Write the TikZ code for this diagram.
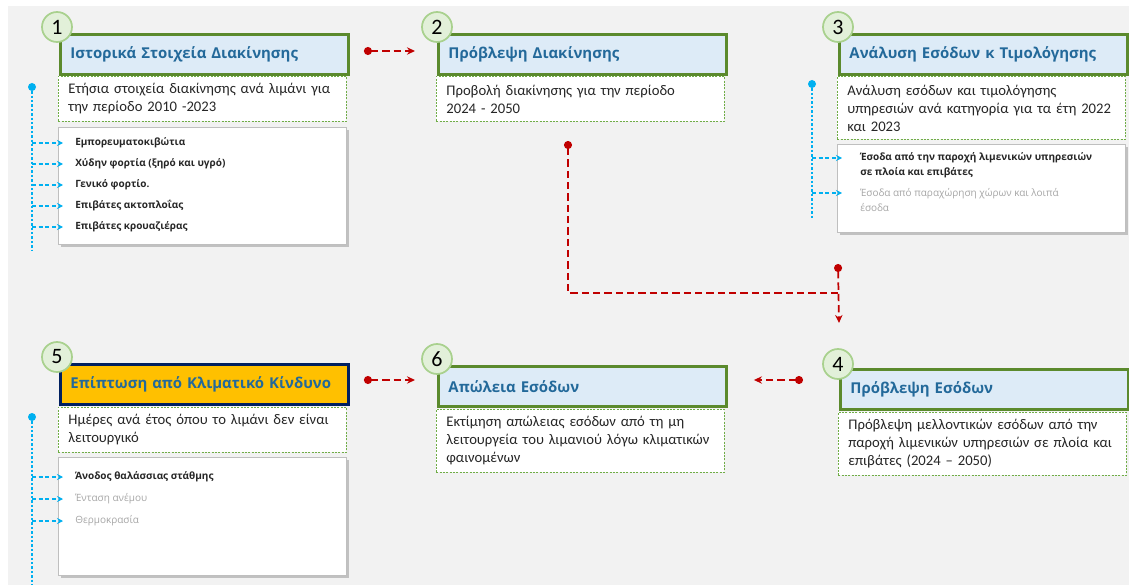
\documentclass[tikz,border=0pt]{standalone}
\usepackage{fontspec}
\setmainfont{Carlito}
\newfontfamily\osans{Open Sans}
\usetikzlibrary{arrows.meta,shadows}
\definecolor{bg}{HTML}{F2F2F2}
\definecolor{tgreen}{HTML}{5B8A2D}
\definecolor{tfill}{HTML}{DDEBF7}
\definecolor{ttext}{HTML}{23699A}
\definecolor{dgreen}{HTML}{70AD47}
\definecolor{cfill}{HTML}{E2F0D9}
\definecolor{cdraw}{HTML}{A9D18E}
\definecolor{ybox}{HTML}{FFC000}
\definecolor{navy}{HTML}{002060}
\definecolor{cred}{HTML}{C00000}
\definecolor{cblue}{HTML}{00B0F0}
\definecolor{itemgray}{HTML}{A6A6A6}
\definecolor{itemdark}{HTML}{262626}
\tikzset{
  titlebox/.style={draw=tgreen, line width=2.2pt, fill=tfill, anchor=north west,
    minimum height=30pt, text width=201pt, inner xsep=7.5pt, inner ysep=0pt, align=left,
    font=\osans\bfseries\fontsize{11.2}{13}\selectfont, text=ttext},
  descbox/.style={draw=dgreen, dash pattern=on 1.5pt off 1pt, line width=0.6pt, fill=white,
    anchor=north west, text width=201pt, inner xsep=7.5pt, inner ysep=2pt, align=left,
    font=\fontsize{11}{13.5}\selectfont, text=itemdark},
  listbox/.style={draw=black!25, line width=0.5pt, fill=white, anchor=north west,
    minimum width=216pt, inner sep=0pt,
    drop shadow={shadow xshift=2pt, shadow yshift=-2pt, opacity=0.35, fill=black!60}},
  numcirc/.style={circle, draw=cdraw, line width=1.3pt, fill=cfill, minimum size=22.5pt,
    inner sep=0pt, font=\fontsize{16.5}{16.5}\selectfont},
  itemdk/.style={anchor=west, inner sep=0pt, font=\osans\bfseries\fontsize{7.5}{11.25}\selectfont, text=itemdark, align=left},
  itemlt/.style={anchor=west, inner sep=0pt, font=\osans\fontsize{7.5}{11.25}\selectfont, text=itemgray, align=left},
  redc/.style={draw=cred, line width=1.3pt, dash pattern=on 5.5pt off 3pt,
    {Circle[length=6pt]}-{Stealth[length=6pt,width=5.5pt]}},
  redl/.style={draw=cred, line width=1.3pt, dash pattern=on 5.5pt off 3pt, {Circle[length=6pt]}-},
  bvert/.style={draw=cblue, line width=0.9pt, dash pattern=on 1.8pt off 1.5pt},
  barrow/.style={draw=cblue, line width=0.8pt, dash pattern=on 3pt off 2pt,
    -{Stealth[length=4.5pt,width=4.5pt]}},
  bdot/.style={circle, fill=cblue, inner sep=0pt, minimum size=6pt}
}
\begin{document}
\begin{tikzpicture}[x=0.75pt,y=-0.75pt]
\useasboundingbox (0,0) rectangle (1129,585);
\fill[white] (0,0) rectangle (1129,585);
\fill[bg] (8,6) rectangle (1129,585);

% ---------- Box 1
\node[titlebox] (t1) at (59,33) {Ιστορικά Στοιχεία Διακίνησης};
\node[descbox, minimum height=33.75pt] (d1) at (58,76) {Ετήσια στοιχεία διακίνησης ανά λιμάνι για την περίοδο 2010 -2023};
\node[listbox, minimum height=87.75pt] (l1) at (58,127) {};
\node[itemdk] (i11) at (75,143) {Εμπορευματοκιβώτια};
\node[itemdk] (i12) at (75,164) {Χύδην φορτία (ξηρό και υγρό)};
\node[itemdk] (i13) at (75,185) {Γενικό φορτίο.};
\node[itemdk] (i14) at (75,206) {Επιβάτες ακτοπλοΐας};
\node[itemdk] (i15) at (75,227) {Επιβάτες κρουαζιέρας};
\node[numcirc] (n1) at (57,27) {1};

% ---------- Box 2
\node[titlebox] (t2) at (437,33) {Πρόβλεψη Διακίνησης};
\node[descbox, minimum height=33.75pt] (d2) at (436,76) {Προβολή διακίνησης για την περίοδο\\2024 - 2050};
\node[numcirc] (n2) at (437,27) {2};

% ---------- Box 3
\node[titlebox] (t3) at (838,33) {Ανάλυση Εσόδων κ Τιμολόγησης};
\node[descbox, minimum height=47.25pt] (d3) at (837,76) {Ανάλυση εσόδων και τιμολόγησης υπηρεσιών ανά κατηγορία για τα έτη 2022 και 2023};
\node[listbox, minimum height=66pt] (l3) at (837,144) {};
\node[itemdk] (i31) at (860,165.5) {Έσοδα από την παροχή λιμενικών υπηρεσιών\\σε πλοία και επιβάτες};
\node[itemlt] (i32) at (860,200.5) {Έσοδα από παραχώρηση χώρων και λοιπά\\έσοδα};
\node[numcirc] (n3) at (838,27) {3};

% ---------- Box 5
\node[titlebox, draw=navy, fill=ybox] (t5) at (59,363) {Επίπτωση από Κλιματικό Κίνδυνο};
\node[descbox, minimum height=33.75pt] (d5) at (58,407) {Ημέρες ανά έτος όπου το λιμάνι δεν είναι λειτουργικό};
\node[listbox, minimum height=88.5pt] (l5) at (58,457) {};
\node[itemdk] (i51) at (75,477) {Άνοδος θαλάσσιας στάθμης};
\node[itemlt] (i52) at (75,499) {Ένταση ανέμου};
\node[itemlt] (i53) at (75,521) {Θερμοκρασία};
\node[numcirc] (n5) at (57,357) {5};

% ---------- Box 6
\node[titlebox] (t6) at (437,365) {Απώλεια Εσόδων};
\node[descbox, minimum height=47.25pt] (d6) at (436,409) {Εκτίμηση απώλειας εσόδων από τη μη λειτουργεία του λιμανιού λόγω κλιματικών φαινομένων};
\node[numcirc] (n6) at (437,359) {6};

% ---------- Box 4
\node[titlebox] (t4) at (839,368) {Πρόβλεψη Εσόδων};
\node[descbox, minimum height=47.25pt] (d4) at (838,412) {Πρόβλεψη μελλοντικών εσόδων από την παροχή λιμενικών υπηρεσιών σε πλοία και επιβάτες (2024 – 2050)};
\node[numcirc] (n4) at (838,364) {4};

% ---------- blue side connectors
\node[bdot] (b1) at (32,87) {};
\coordinate (b1e) at (32,250);
\draw[bvert] (b1) -- (b1e);
\foreach \i in {i11,i12,i13,i14,i15}{
  \draw[barrow] (b1 |- \i.west) -- ([xshift=-9pt]\i.west);
}
\node[bdot] (b3) at (812,84) {};
\coordinate (b3e) at (812,219);
\draw[bvert] (b3) -- (b3e);
\coordinate (a31) at (842,158);
\coordinate (a32) at (842,193);
\draw[barrow] (b3 |- a31) -- (a31);
\draw[barrow] (b3 |- a32) -- (a32);
\node[bdot] (b5) at (32,417) {};
\coordinate (b5e) at (32,585);
\draw[bvert] (b5) -- (b5e);
\foreach \i in {i51,i52,i53}{
  \draw[barrow] (b5 |- \i.west) -- ([xshift=-9pt]\i.west);
}

% ---------- red flow connectors
\coordinate (row1) at (0,51);
\coordinate (row2) at (0,380);
\draw[redc] ([xshift=10.5pt]t1.east |- row1) -- ([xshift=-16.5pt]t2.west |- row1);
\draw[redc] ([xshift=10.5pt]t5.east |- row2) -- ([xshift=-16.5pt]t6.west |- row2);
\draw[redc] ([xshift=-27pt]t4.west |- row2) -- ([xshift=19.5pt]t6.east |- row2);
\coordinate (s2) at (568,141);
\coordinate (j4) at (838,293);
\coordinate (s3) at (838,264);
\draw[redl] (s2) |- (j4);
\draw[redc] (s3) -- ([yshift=33.75pt]t4.north west);
\end{tikzpicture}
\end{document}
